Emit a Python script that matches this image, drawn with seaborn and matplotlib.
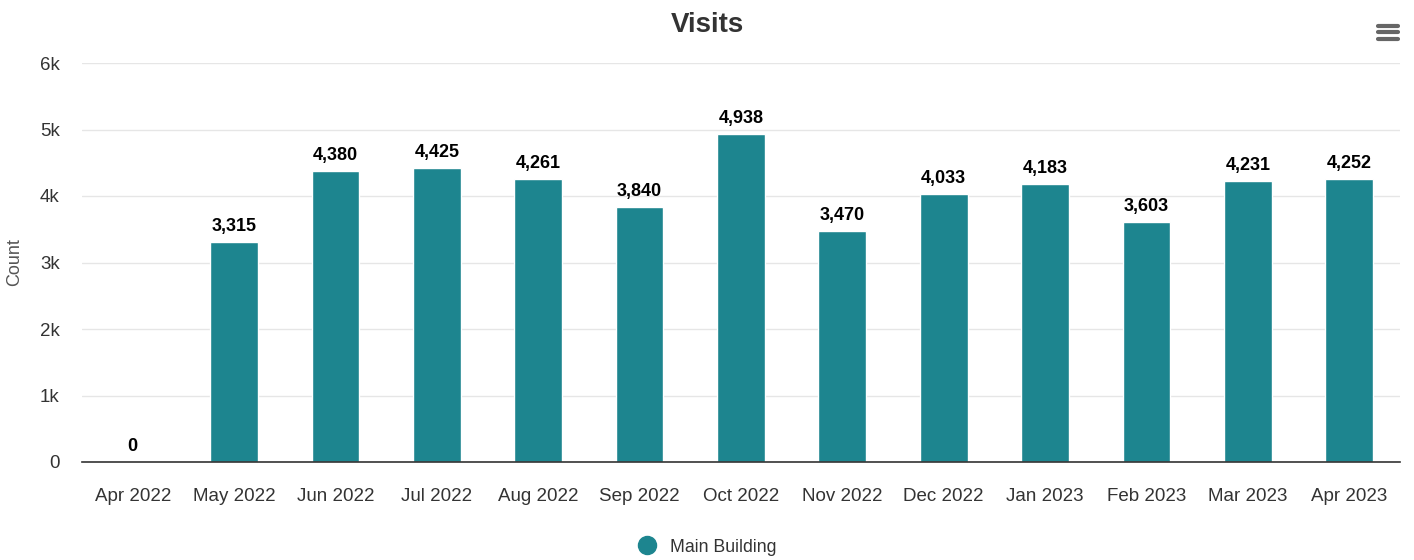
import matplotlib
matplotlib.use("Agg")
import matplotlib.pyplot as plt
import matplotlib.lines as mlines
import pandas as pd
import seaborn as sns
from matplotlib.ticker import FuncFormatter

months = ["Apr 2022", "May 2022", "Jun 2022", "Jul 2022", "Aug 2022", "Sep 2022",
          "Oct 2022", "Nov 2022", "Dec 2022", "Jan 2023", "Feb 2023", "Mar 2023",
          "Apr 2023"]
visits = [0, 3315, 4380, 4425, 4261, 3840, 4938, 3470, 4033, 4183, 3603, 4231, 4252]
series_name = "Main Building"

BAR = "#1d858f"
TXT = "#333333"

sns.set_theme(style="white")
plt.rcParams["font.family"] = ["Liberation Sans", "DejaVu Sans"]

df = pd.DataFrame({"month": months, "count": visits})

fig = plt.figure(figsize=(14.14, 5.6), dpi=100)
ax = fig.add_axes([0.058, 0.175, 0.932, 0.7125])

sns.barplot(data=df, x="month", y="count", color=BAR, width=0.47,
            edgecolor="white", linewidth=1, saturation=1, ax=ax)

ax.set_ylim(0, 6000)
ax.set_yticks(range(0, 6001, 1000))
ax.yaxis.set_major_formatter(FuncFormatter(lambda v, p: "0" if v == 0 else f"{int(v/1000)}k"))
ax.grid(axis="y", color="#e6e6e6", linewidth=1)
ax.set_axisbelow(True)
for s in ["top", "right", "left"]:
    ax.spines[s].set_visible(False)
ax.spines["bottom"].set_color(TXT)
ax.spines["bottom"].set_linewidth(1.2)
ax.tick_params(axis="both", length=0, labelsize=13.5, colors=TXT)
ax.tick_params(axis="x", pad=19)
ax.tick_params(axis="y", pad=16)
ax.set_xlabel("")
ax.set_ylabel("Count", fontsize=13, color="#555555")
ax.yaxis.set_label_coords(-0.045, 0.5)

ax.bar_label(ax.containers[0], labels=[f"{v:,}" for v in visits],
             padding=5, fontsize=13, fontweight="bold", color="black")

fig.suptitle("Visits", y=0.978, fontsize=20, fontweight="bold", color=TXT)

handle = mlines.Line2D([], [], marker="o", linestyle="none", markersize=13,
                       markerfacecolor=BAR, markeredgecolor=BAR)
fig.legend([handle], [series_name], loc="center", bbox_to_anchor=(0.497, 0.023),
           frameon=False, fontsize=12.8, handletextpad=0.25, labelcolor=TXT)

# export menu icon
for yy in [0.953, 0.942, 0.931]:
    fig.add_artist(mlines.Line2D([0.9745, 0.9885], [yy, yy], color="#666666",
                                 linewidth=3, solid_capstyle="round"))

fig.savefig("out.png", dpi=100)
